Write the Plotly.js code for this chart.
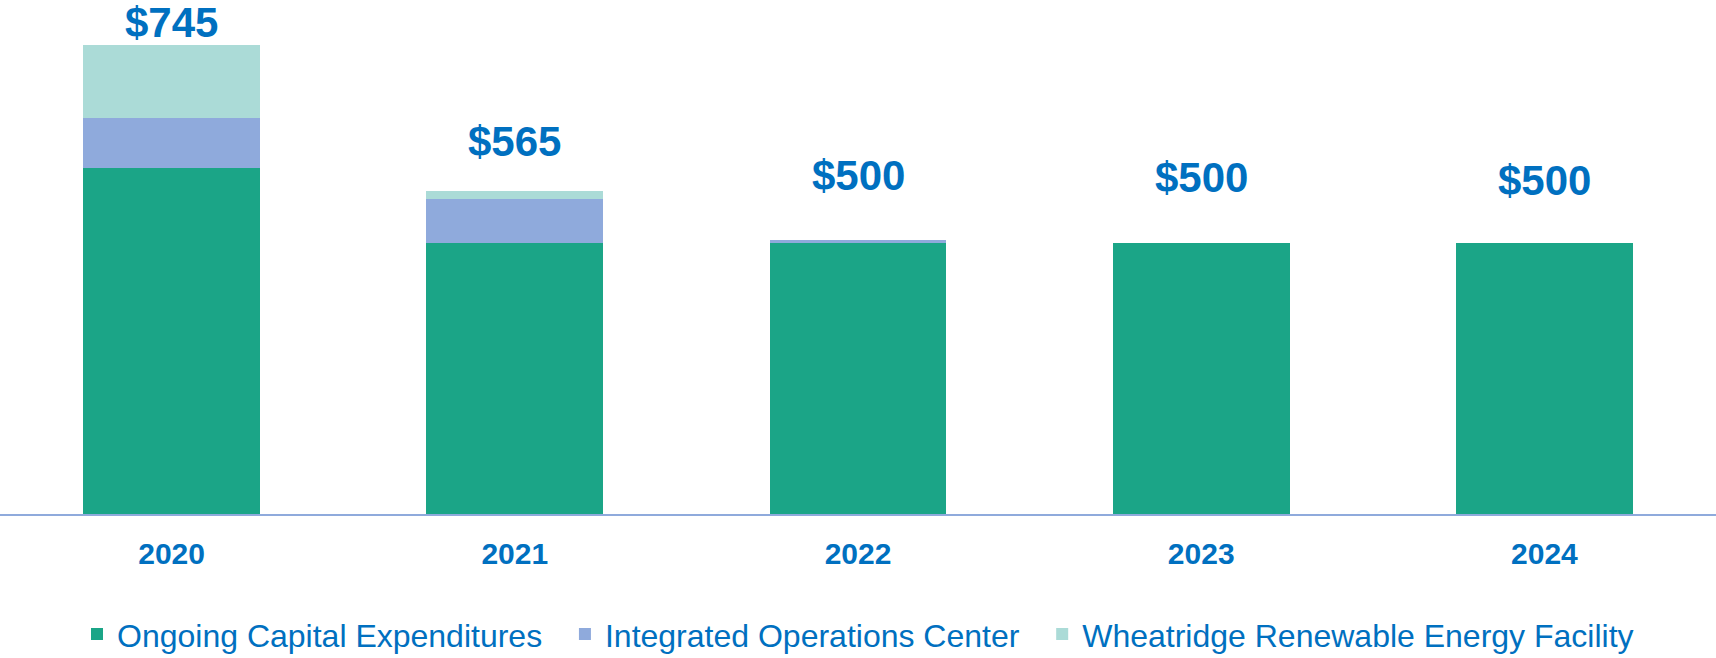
<!DOCTYPE html>
<html>
<head>
<meta charset="utf-8">
<script src="https://cdn.plot.ly/plotly-3.0.1.min.js"></script>
<style>
  html, body { margin: 0; padding: 0; background: #ffffff; }
  #chart { width: 1716px; height: 658px; }
</style>
</head>
<body>
<div id="chart"></div>
<script>
// ---- data ----
const years = ["2020", "2021", "2022", "2023", "2024"];
const ongoingCapex = [593, 500, 500, 500, 500];
const integratedOpsCenter = [62, 55, 4, 0, 0];
const wheatridgeFacility = [90, 10, 0, 0, 0];
const totalLabels = ["$745", "$565", "$500", "$500", "$500"];
const seriesNames = ["Ongoing Capital Expenditures", "Integrated Operations Center", "Wheatridge Renewable Energy Facility"];

// ---- styles ----
const colors = ["#1ba587", "#8faadc", "#abdbd7"];
const textBlue = "#0070c0";
const fontFam = "Liberation Sans, Arial, sans-serif";
const labelShift = [-3, 24, 39, 40, 37];
const legendPad = "\u00a0\u00a0";

const totals = years.map((_, i) => ongoingCapex[i] + integratedOpsCenter[i] + wheatridgeFacility[i]);

const seriesValues = [ongoingCapex, integratedOpsCenter, wheatridgeFacility];
const traces = seriesValues.map((vals, k) => ({
  type: "bar",
  name: seriesNames[k] + (k < seriesValues.length - 1 ? legendPad : ""),
  x: years,
  y: vals,
  marker: { color: colors[k], line: { width: 0 } },
  hoverinfo: "x+y+name"
}));

// category axes: annotation x uses the category index
const annotations = years.map((yr, i) => ({
  x: i,
  y: totals[i],
  xref: "x",
  yref: "y",
  text: "<b>" + totalLabels[i] + "</b>",
  showarrow: false,
  yanchor: "bottom",
  yshift: labelShift[i],
  font: { family: fontFam, size: 42, color: textBlue }
}));

const layout = {
  width: 1716,
  height: 658,
  barmode: "stack",
  bargap: 0.485,
  margin: { l: 0, r: 0, t: 0, b: 144, autoexpand: false },
  paper_bgcolor: "#ffffff",
  plot_bgcolor: "#ffffff",
  xaxis: {
    type: "category",
    range: [-0.5, 4.5],
    showline: true,
    linecolor: "#8faadc",
    linewidth: 1.5,
    showgrid: false,
    zeroline: false,
    ticks: "outside",
    ticklen: 12,
    tickcolor: "rgba(0,0,0,0)",
    tickfont: { family: fontFam, size: 30, color: textBlue, weight: "bold" }
  },
  yaxis: {
    range: [166, 800.5],
    visible: false,
    showgrid: false,
    zeroline: false
  },
  showlegend: true,
  legend: {
    orientation: "h",
    x: 0.5,
    xanchor: "center",
    y: -0.234,
    yanchor: "middle",
    font: { family: fontFam, size: 32, color: textBlue },
    traceorder: "normal",
    itemclick: false
  },
  annotations: annotations
};

Plotly.newPlot("chart", traces, layout, { displayModeBar: false, staticPlot: true });
</script>
</body>
</html>
